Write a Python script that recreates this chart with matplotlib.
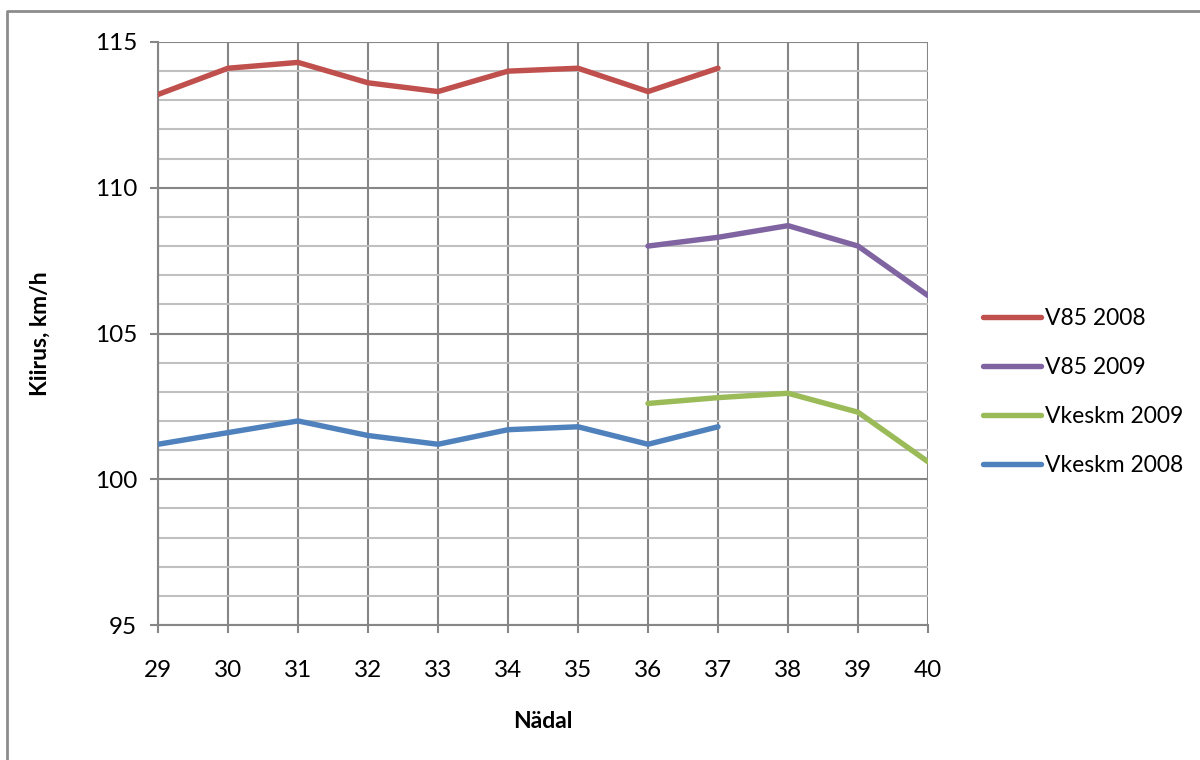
import matplotlib
matplotlib.use("Agg")
import matplotlib.pyplot as plt
from matplotlib.lines import Line2D
from matplotlib.ticker import MultipleLocator

plt.rcParams['font.family'] = ['Lato', 'DejaVu Sans']

weeks_2008 = [29, 30, 31, 32, 33, 34, 35, 36, 37]
weeks_2009 = [36, 37, 38, 39, 40]
v85_2008 = [113.2, 114.1, 114.3, 113.6, 113.3, 114.0, 114.1, 113.3, 114.1]
v85_2009 = [108.0, 108.3, 108.7, 108.0, 106.3]
vkeskm_2009 = [102.6, 102.8, 102.95, 102.3, 100.6]
vkeskm_2008 = [101.2, 101.6, 102.0, 101.5, 101.2, 101.7, 101.8, 101.2, 101.8]

series = [
    ("V85 2008", weeks_2008, v85_2008, "#C0504D"),
    ("V85 2009", weeks_2009, v85_2009, "#8064A2"),
    ("Vkeskm 2009", weeks_2009, vkeskm_2009, "#9BBB59"),
    ("Vkeskm 2008", weeks_2008, vkeskm_2008, "#4F81BD"),
]

fig = plt.figure(figsize=(12, 7.6), dpi=100)
ax = fig.add_axes([158 / 1200, 1 - 625 / 760, 770 / 1200, 583 / 760])

grid_major = "#868686"
grid_minor = "#C0C0C0"

for label, x, y, color in series:
    ax.plot(x, y, color=color, lw=3.9, label=label, solid_capstyle="round",
            solid_joinstyle="round", zorder=3)

ax.set_xlim(29, 40)
ax.set_ylim(95, 115)
ax.xaxis.set_major_locator(MultipleLocator(1))
ax.yaxis.set_major_locator(MultipleLocator(5))
ax.yaxis.set_minor_locator(MultipleLocator(1))

ax.grid(True, which="major", axis="both", color=grid_major, lw=1.5, zorder=1)
ax.grid(True, which="minor", axis="y", color=grid_minor, lw=1.5, zorder=1)

for side in ("top", "right"):
    ax.spines[side].set_visible(False)
for side in ("left", "bottom"):
    ax.spines[side].set_color(grid_major)
    ax.spines[side].set_linewidth(1.5)

ax.tick_params(axis="both", which="major", direction="out", length=6, width=1.5,
               color=grid_major, labelsize=17.5, pad=19)
ax.tick_params(axis="y", which="minor", length=0)
ax.tick_params(axis="y", which="major", pad=9)

ax.set_xlabel("Nädal", fontsize=16.5, fontweight="bold", labelpad=22)
ax.set_ylabel("Kiirus, km/h", fontsize=16.5, fontweight="bold", labelpad=32)

ax.legend(loc="center left", bbox_to_anchor=(1.045, 0.40), frameon=False,
          fontsize=16.5, handlelength=2.5, handletextpad=0.2, labelspacing=1.22)

# outer chart border
fig.add_artist(Line2D([7 / 1200, 7 / 1200, 1.0], [0.0, 1 - 11 / 760, 1 - 11 / 760],
                      transform=fig.transFigure, color="#8C8C8C", lw=2))

fig.savefig("out.png", dpi=100)
